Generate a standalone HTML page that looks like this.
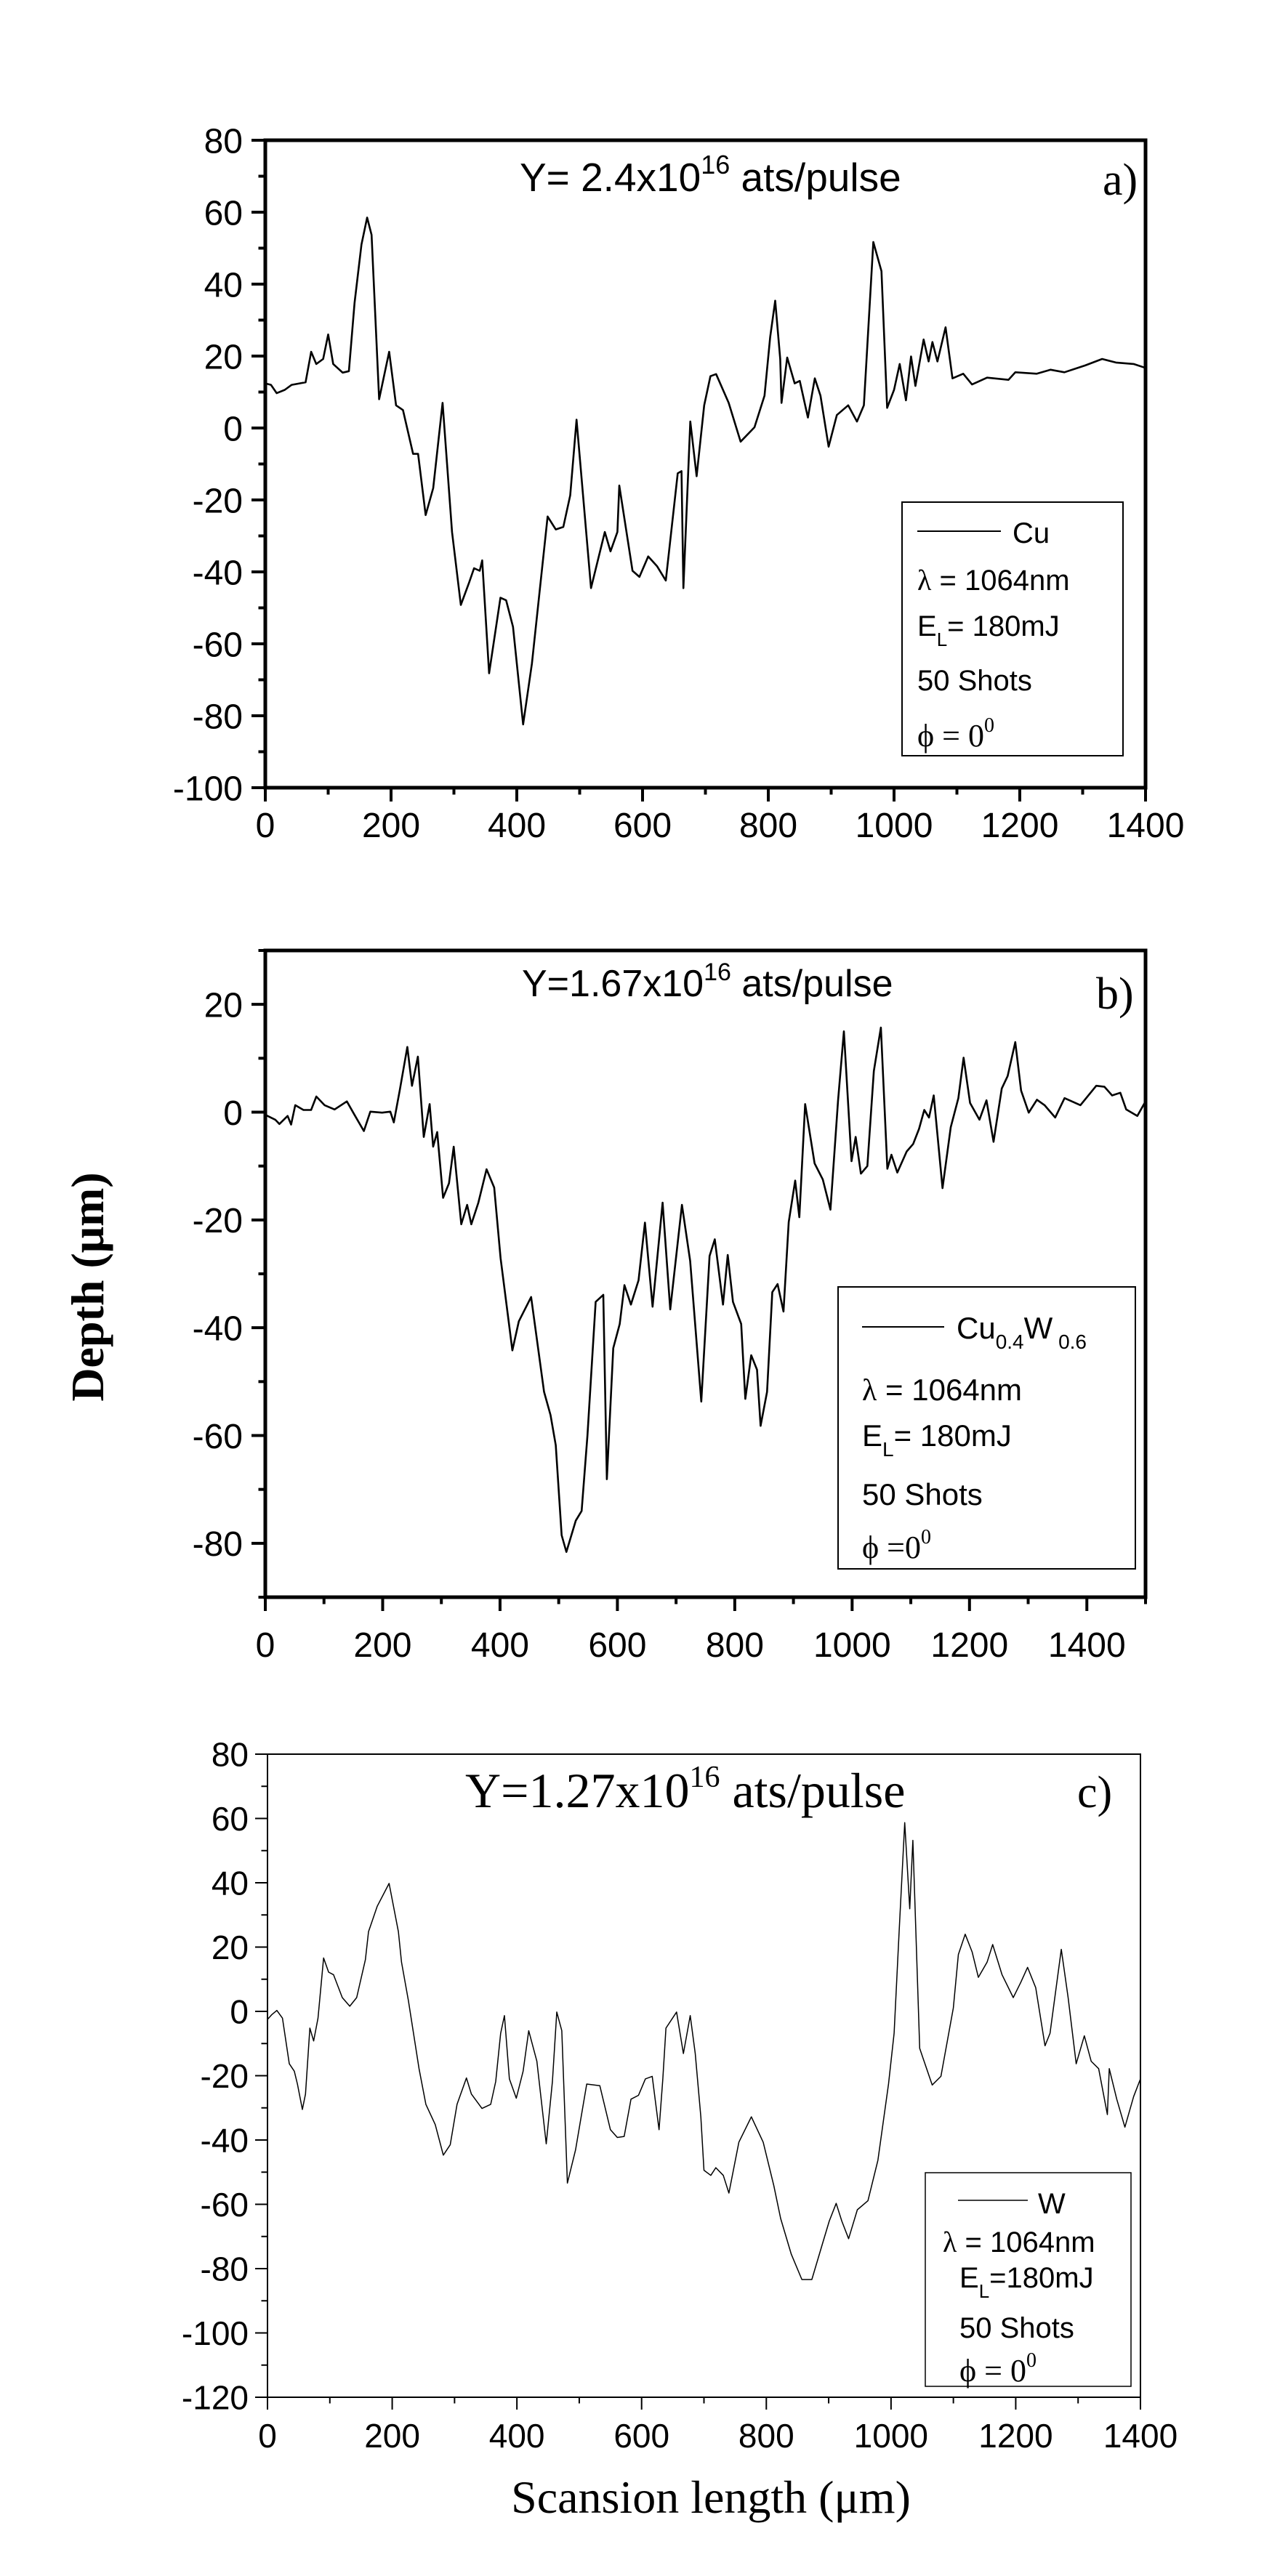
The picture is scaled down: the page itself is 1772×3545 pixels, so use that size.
<!DOCTYPE html>
<html><head><meta charset="utf-8"><title>Depth profiles</title>
<style>
html,body{margin:0;padding:0;background:#fff;}
svg{display:block;}
text{font-family:"Liberation Sans",Arial,sans-serif;fill:#000;}
.serif{font-family:"Liberation Serif","Times New Roman",serif;}
</style></head>
<body>
<svg id="fig" xmlns="http://www.w3.org/2000/svg" width="1772" height="3545" viewBox="0 0 1772 3545">
<rect width="1772" height="3545" fill="#fff"/>
<text x="715" y="263" font-size="55">Y= 2.4x10<tspan dy="-24" font-size="36">16</tspan><tspan dy="24"> ats/pulse</tspan></text>
<text class="serif" x="1517" y="268" font-size="62">a)</text>
<g>
<rect x="1241" y="691" width="304" height="349" fill="#fff" stroke="#000" stroke-width="2"/>
<line x1="1262" y1="731" x2="1377" y2="731" stroke="#000" stroke-width="2"/>
<text x="1393" y="747" font-size="40">Cu</text>
<text x="1262" y="812" font-size="40"><tspan class="serif" font-family="Liberation Serif">λ</tspan> = 1064nm</text>
<text x="1262" y="875" font-size="40">E<tspan dy="14" font-size="26">L</tspan><tspan dy="-14">= 180mJ</tspan></text>
<text x="1262" y="950" font-size="40">50 Shots</text>
<text x="1262" y="1027" font-size="44" class="serif">ϕ = 0<tspan dy="-20" font-size="28">0</tspan></text>
</g>
<text x="718" y="1371" font-size="52">Y=1.67x10<tspan dy="-22" font-size="34">16</tspan><tspan dy="22"> ats/pulse</tspan></text>
<text class="serif" x="1508" y="1388" font-size="62">b)</text>
<text class="serif" font-weight="bold" font-size="64" transform="translate(142,1771) rotate(-90)" text-anchor="middle">Depth (μm)</text>
<g>
<rect x="1153" y="1771" width="409" height="388" fill="#fff" stroke="#000" stroke-width="2"/>
<line x1="1186" y1="1826" x2="1299" y2="1826" stroke="#000" stroke-width="2"/>
<text x="1316" y="1842" font-size="42">Cu<tspan dy="14" font-size="28">0.4</tspan><tspan dy="-14">W</tspan><tspan dy="14" font-size="28"> 0.6</tspan></text>
<text x="1186" y="1927" font-size="42"><tspan font-family="Liberation Serif">λ</tspan> = 1064nm</text>
<text x="1186" y="1990" font-size="42">E<tspan dy="14" font-size="28">L</tspan><tspan dy="-14">= 180mJ</tspan></text>
<text x="1186" y="2071" font-size="42">50 Shots</text>
<text x="1186" y="2144" font-size="44" class="serif">ϕ =0<tspan dy="-20" font-size="28">0</tspan></text>
</g>
<text class="serif" x="640" y="2487" font-size="68">Y=1.27x10<tspan dy="-28" font-size="42">16</tspan><tspan dy="28"> ats/pulse</tspan></text>
<text class="serif" x="1482" y="2487" font-size="62">c)</text>
<g>
<rect x="1273" y="2990" width="283" height="294" fill="#fff" stroke="#000" stroke-width="1.5"/>
<line x1="1318" y1="3028" x2="1414" y2="3028" stroke="#000" stroke-width="1.5"/>
<text x="1428" y="3046" font-size="40">W</text>
<text x="1297" y="3099" font-size="40"><tspan font-family="Liberation Serif">λ</tspan> = 1064nm</text>
<text x="1320" y="3148" font-size="40">E<tspan dy="14" font-size="26">L</tspan><tspan dy="-14">=180mJ</tspan></text>
<text x="1320" y="3217" font-size="40">50 Shots</text>
<text x="1320" y="3277" font-size="44" class="serif">ϕ  = 0<tspan dy="-20" font-size="28">0</tspan></text>
</g>
<text class="serif" x="978" y="3458" font-size="64" text-anchor="middle">Scansion length (μm)</text>
</svg>
<script>
const xA = [0,9,18,31,42,64,73,81,92,100,108,123,133,142,153,162,169,181,197,208,219,235,243,255,267,282,297,311,324,332,341,345,356,374,383,394,410,424,449,462,474,485,495,518,540,549,560,563,584,595,609,623,637,656,662,665,676,686,698,708,717,737,756,778,794,803,811,819,821,830,842,850,863,874,883,896,909,927,941,952,967,980,989,1000,1009,1019,1027,1034,1047,1055,1061,1069,1082,1093,1110,1124,1148,1182,1193,1227,1249,1271,1304,1331,1353,1381,1400];
const yA = [12.4,12,9.7,10.6,12,12.7,21.2,17.8,19.2,26,17.8,15.4,15.8,34.8,51,58.5,53.7,8,21.2,6.3,5,-7.2,-7.2,-24.2,-16.7,7,-28.9,-49.2,-43,-39,-39.7,-36.8,-68.2,-47.2,-47.9,-55.3,-82.4,-65.5,-24.6,-28.2,-27.5,-18.7,2.3,-44.5,-28.9,-34.3,-28.9,-16,-39.7,-41.4,-35.7,-38.4,-42.4,-12.6,-12,-44.5,1.8,-13.4,6.3,14.4,15,7,-3.8,0.2,9,25.3,35.4,19.2,7,19.6,12.4,13.1,2.9,13.8,9,-5.2,3.6,6.3,1.8,6.3,51.7,43.6,5.6,10.6,17.8,7.7,19.9,11.7,24.6,18.5,23.9,18.5,28,13.8,15.1,12.1,14,13.4,15.5,15.1,16.2,15.5,17.4,19.2,18.2,17.8,16.7];
const xTicksA = [0,200,400,600,800,1000,1200,1400];
const yTicksA = [80,60,40,20,0,-20,-40,-60,-80,-100];

const xB = [0,17,24,38,44,51,65,78,87,101,118,139,152,168,179,199,213,219,229,242,250,260,270,280,286,293,303,313,321,334,344,351,363,377,390,401,421,432,453,475,486,495,505,513,529,539,549,563,576,582,593,604,612,623,636,647,660,677,690,710,724,743,757,766,780,788,797,811,818,828,838,844,855,864,873,883,892,903,910,920,936,950,963,976,986,999,1006,1015,1026,1037,1049,1060,1067,1077,1093,1104,1114,1123,1131,1139,1154,1168,1181,1190,1201,1217,1229,1241,1255,1265,1278,1288,1301,1315,1328,1346,1362,1389,1416,1430,1443,1457,1467,1486,1500];
const yB = [-0.5,-1.4,-2.2,-0.7,-2.3,1.3,0.4,0.4,2.9,1.3,0.5,2,-0.5,-3.5,0.1,-0.1,0.1,-1.9,4,12.1,4.9,10.3,-4.6,1.5,-6.4,-3.7,-15.9,-13.2,-6.4,-20.8,-17.2,-20.8,-16.8,-10.6,-14,-27.1,-44.2,-38.8,-34.3,-51.9,-56.2,-61.8,-78.5,-81.6,-75.8,-74,-60,-35.2,-33.9,-68.1,-43.8,-39.3,-32.1,-35.7,-31.2,-20.5,-36.1,-16.8,-36.6,-17.2,-27.6,-53.7,-26.7,-23.6,-35.7,-26.5,-35.2,-39.3,-53.2,-45.1,-47.8,-58.2,-51.9,-33.4,-31.9,-37,-20.4,-12.7,-19.5,1.5,-9.5,-12.5,-18.1,2.2,15,-9.1,-4.6,-11.4,-10,7.6,15.7,-10.5,-7.9,-11.2,-7.3,-5.9,-3.1,0.4,-1,3.1,-14.1,-2.8,2.6,10.1,1.7,-1.4,2.2,-5.5,4.4,6.7,13,4,-0.1,2.3,1.3,-1,2.6,1.3,4.9,4.7,3.1,3.6,0.5,-0.7,2];
const xTicksB = [0,200,400,600,800,1000,1200,1400];
const yTicksB = [20,0,-20,-40,-60,-80];

const xC = [0,7,15,24,35,43,48,56,61,68,74,81,90,98,106,120,132,143,157,162,176,195,210,215,226,243,254,269,282,293,304,319,327,344,358,366,374,380,388,399,410,419,432,447,457,464,472,481,494,512,533,550,561,572,583,595,606,617,628,634,639,656,667,678,686,695,700,711,719,731,740,756,776,795,812,823,840,857,873,890,901,912,921,932,946,963,979,996,1005,1013,1022,1030,1035,1046,1057,1066,1080,1100,1108,1119,1130,1140,1154,1163,1178,1196,1208,1219,1232,1247,1255,1273,1284,1297,1310,1321,1333,1347,1350,1362,1375,1389,1400];
const yC = [-2.5,-1,0.3,-2.1,-16.3,-18.6,-22.6,-30.5,-25.7,-5.2,-9.2,-2.1,16.6,12.2,11.4,4.3,1.6,4.3,16.1,24.8,32.7,39.8,24.8,15.3,3.3,-17.8,-28.9,-35.2,-44.7,-41.5,-28.9,-20.7,-25.7,-30.2,-28.9,-21.8,-6.8,-1.3,-21,-27,-18.6,-6,-15.5,-41.2,-21.8,-0.2,-6,-53.4,-43.1,-22.6,-23.1,-36.8,-39.2,-38.9,-27.3,-26.1,-21,-20.2,-36.8,-21,-5.2,-0.2,-13.1,-1.3,-13.1,-32.8,-49.4,-51,-48.6,-51,-56.5,-40.7,-32.8,-40.7,-54.2,-64.4,-75.5,-83.4,-83.4,-72.3,-65.2,-59.7,-65.2,-70.7,-61.7,-58.9,-46.3,-22.6,-6.8,24.8,58.7,31.9,53.2,-11.5,-17.8,-22.9,-20.2,1.1,17.7,24,18.5,10.6,15.3,20.8,11.4,4.3,9,13.7,7.4,-10.7,-6.8,19.3,4.3,-16.3,-7.6,-15.5,-17.8,-32.1,-17.8,-27.3,-36,-26.5,-21];
const xTicksC = [0,200,400,600,800,1000,1200,1400];
const yTicksC = [80,60,40,20,0,-20,-40,-60,-80,-100,-120];

const NS = 'http://www.w3.org/2000/svg';
const svg = document.getElementById('fig');
function mk(tag, attrs, parent){
  const e = document.createElementNS(NS, tag);
  for (const k in attrs) e.setAttribute(k, attrs[k]);
  (parent||svg).appendChild(e);
  return e;
}
function panel(cfg){
  const g = mk('g', {});
  
  
  const sx = v => cfg.x0 + (v - cfg.xmin) / (cfg.xmax - cfg.xmin) * (cfg.x1 - cfg.x0);
  const sy = v => cfg.y1 - (v - cfg.ymin) / (cfg.ymax - cfg.ymin) * (cfg.y1 - cfg.y0);
  const aw = cfg.aw, tw = cfg.tw;
  const fr = mk('rect', {x:cfg.x0, y:cfg.y0, width:cfg.x1-cfg.x0, height:cfg.y1-cfg.y0, fill:'none', stroke:'#000', 'stroke-width':aw}, g);
  
  
  const xs = cfg.xstep/2;
  for (let v = cfg.xmin; v <= cfg.xmax + 1e-6; v += xs) {
    const major = Math.abs((v / cfg.xstep) - Math.round(v / cfg.xstep)) < 1e-6;
    const t = mk('line', {x1:sx(v), x2:sx(v), y1:cfg.y1, y2:cfg.y1 + (major?cfg.tl:cfg.tl/2), stroke:'#000', 'stroke-width':tw}, g);
    
    
  }
  cfg.xt.forEach(v => {
    const t = mk('text', {x:sx(v), y:cfg.xly, 'font-size':cfg.fs, 'text-anchor':'middle'}, g);
    
    
    t.textContent = v;
  });
  const ys = cfg.ystep/2;
  for (let v = cfg.ymin; v <= cfg.ymax + 1e-6; v += ys) {
    const major = Math.abs((v / cfg.ystep) - Math.round(v / cfg.ystep)) < 1e-6;
    const t = mk('line', {x1:cfg.x0, x2:cfg.x0 - (major?cfg.tl:cfg.tl/2), y1:sy(v), y2:sy(v), stroke:'#000', 'stroke-width':tw}, g);
    
    
  }
  cfg.yt.forEach(v => {
    const t = mk('text', {x:cfg.ylx, y:sy(v) + cfg.fs*0.36, 'font-size':cfg.fs, 'text-anchor':'end'}, g);
    
    
    t.textContent = v;
  });
  const pts = cfg.xd.map((x, i) => sx(x).toFixed(1) + ',' + sy(cfg.yd[i]).toFixed(1)).join(' ');
  const pl = mk('polyline', {points:pts, fill:'none', stroke:'#000', 'stroke-width':cfg.lw, 'stroke-linejoin':'round'}, g);
  
  
  svg.insertBefore(g, svg.children[1]);
}
panel({name:'chart-a', series:'series-cu', x0:365, x1:1576, y0:193, y1:1084, xmin:0, xmax:1400, ymin:-100, ymax:80,
  xstep:200, ystep:20, xt:xTicksA, yt:yTicksA, xd:xA, yd:yA, aw:5, tw:4, tl:19, lw:2.6, fs:48, xly:1152, ylx:334});
panel({name:'chart-b', series:'series-cuw', x0:365, x1:1576, y0:1308, y1:2198, xmin:0, xmax:1500, ymin:-90, ymax:30,
  xstep:200, ystep:20, xt:xTicksB, yt:yTicksB, xd:xB, yd:yB, aw:5, tw:4, tl:19, lw:2.6, fs:48, xly:2280, ylx:334});
panel({name:'chart-c', series:'series-w', x0:368, x1:1569, y0:2414, y1:3299, xmin:0, xmax:1400, ymin:-120, ymax:80,
  xstep:200, ystep:20, xt:xTicksC, yt:yTicksC, xd:xC, yd:yC, aw:2, tw:2, tl:17, lw:1.5, fs:46, xly:3368, ylx:342});
</script>
</body></html>
